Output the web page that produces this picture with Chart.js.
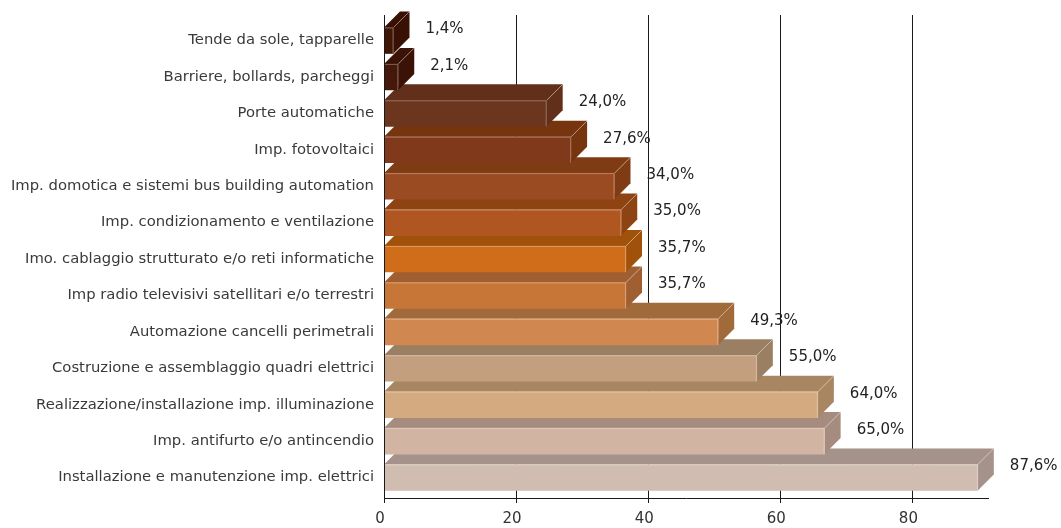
<!DOCTYPE html>
<html>
<head>
<meta charset="utf-8">
<script src="https://cdn.jsdelivr.net/npm/chart.js@4.4.1/dist/chart.umd.min.js"></script>
<style>
    html, body { margin: 0; padding: 0; background: #fff; }
    #wrap { width: 1061px; height: 528px; }
</style>
</head>
<body>
<div id="wrap"><canvas id="chart"></canvas></div>
<script>
/* ============================================
   DATA
============================================ */

const categories = [
    "Tende da sole, tapparelle",
    "Barriere, bollards, parcheggi",
    "Porte automatiche",
    "Imp. fotovoltaici",
    "Imp. domotica e sistemi bus building automation",
    "Imp. condizionamento e ventilazione",
    "Imo. cablaggio strutturato e/o reti informatiche",
    "Imp radio televisivi satellitari e/o terrestri",
    "Automazione cancelli perimetrali",
    "Costruzione e assemblaggio quadri elettrici",
    "Realizzazione/installazione imp. illuminazione",
    "Imp. antifurto e/o antincendio",
    "Installazione e manutenzione imp. elettrici"
];

const percentages = [1.4, 2.1, 24.0, 27.6, 34.0, 35.0, 35.7, 35.7, 49.3, 55.0, 64.0, 65.0, 87.6];

const axisTicks = [0, 20, 40, 60, 80];

// colori: faccia frontale e facce in ombra (sopra / lato)
const frontColors = [
    "#421607", "#46180a", "#6b361d", "#80391a", "#9a4b22", "#b05621", "#cf6d1b",
    "#c87538", "#d08750", "#c39f7f", "#d4aa80", "#d2b4a2", "#d0bcb0"
];
const shadeColors = [
    "#381104", "#3b1306", "#62301a", "#76340f", "#7f3c14", "#8e4313", "#a0520b",
    "#a05f30", "#a06a3a", "#9a7f63", "#a88662", "#a58c7f", "#a5928a"
];

const DEPTH = 16;

function formatPercent(v) {
    return v.toFixed(1).replace(".", ",") + "%";
}

/* ============================================
   3D BARS (top + side faces, labels)
============================================ */

const bar3d = {
    id: "bar3d",
    beforeDatasetsDraw(chart) {
        const ctx = chart.ctx;
        const bars = chart.getDatasetMeta(0).data;
        ctx.save();
        for (let i = bars.length - 1; i >= 0; i--) {
            const b = bars[i];
            const top = b.y - b.height / 2;
            const bottom = b.y + b.height / 2;
            ctx.fillStyle = shadeColors[i];
            // faccia superiore
            ctx.beginPath();
            ctx.moveTo(b.base, top);
            ctx.lineTo(b.x, top);
            ctx.lineTo(b.x + DEPTH, top - DEPTH);
            ctx.lineTo(b.base + DEPTH, top - DEPTH);
            ctx.closePath();
            ctx.fill();
            // faccia laterale
            ctx.beginPath();
            ctx.moveTo(b.x, top);
            ctx.lineTo(b.x + DEPTH, top - DEPTH);
            ctx.lineTo(b.x + DEPTH, bottom - DEPTH);
            ctx.lineTo(b.x, bottom);
            ctx.closePath();
            ctx.fill();
        }
        ctx.restore();
    },
    afterDatasetsDraw(chart) {
        const ctx = chart.ctx;
        const bars = chart.getDatasetMeta(0).data;
        ctx.save();
        // spigoli chiari
        ctx.strokeStyle = "rgba(255,255,255,0.3)";
        ctx.lineWidth = 1;
        bars.forEach(b => {
            const top = b.y - b.height / 2;
            const bottom = b.y + b.height / 2;
            ctx.beginPath();
            ctx.moveTo(b.x - 0.5, bottom);
            ctx.lineTo(b.x - 0.5, top + 0.5);
            ctx.lineTo(b.base + 1, top + 0.5);
            ctx.moveTo(b.x, top);
            ctx.lineTo(b.x + DEPTH, top - DEPTH);
            ctx.stroke();
        });
        // etichette valori
        ctx.fillStyle = "#222";
        ctx.font = "15px 'DejaVu Sans'";
        ctx.textAlign = "left";
        ctx.textBaseline = "middle";
        bars.forEach((b, i) => {
            ctx.fillText(formatPercent(percentages[i]), b.x + DEPTH + 16, b.y - 11);
        });
        ctx.restore();
    }
};

/* ============================================
   CHART
============================================ */

Chart.defaults.font.family = "'DejaVu Sans'";
Chart.defaults.color = "#333";

new Chart(document.getElementById("chart"), {
    type: "bar",
    data: {
        datasets: [{
            data: percentages.map((v, i) => ({ x: v, y: i })),
            backgroundColor: frontColors,
            borderWidth: 0,
            barThickness: 26
        }]
    },
    options: {
        indexAxis: "y",
        responsive: true,
        maintainAspectRatio: false,
        animation: false,
        layout: { padding: { top: 15, right: 73, left: 0, bottom: 0 } },
        plugins: {
            legend: { display: false },
            tooltip: { enabled: false }
        },
        scales: {
            x: {
                type: "linear",
                display: false,
                min: 0,
                max: 89.1
            },
            x2: {
                type: "linear",
                position: "bottom",
                min: 0,
                max: 91.45,
                afterBuildTicks: s => { s.ticks = axisTicks.map(v => ({ value: v })); },
                afterFit: s => { s.height = 30; },
                grid: { color: "#1a1a1a", tickLength: 5 },
                border: { color: "#1a1a1a" },
                ticks: {
                    font: { size: 15 },
                    color: "#333",
                    padding: 7,
                    labelOffset: -4
                }
            },
            y: {
                type: "linear",
                reverse: true,
                offset: false,
                min: -0.7,
                max: 12.563,
                afterBuildTicks: s => { s.ticks = categories.map((c, i) => ({ value: i })); },
                afterFit: s => {
                    s.width = 384;
                    s.paddingTop = 0;
                    s.paddingBottom = 0;
                },
                grid: { display: false, drawTicks: false },
                border: { color: "#1a1a1a", z: 1 },
                ticks: {
                    font: { size: 14.8 },
                    color: "#3a3a3a",
                    padding: 10,
                    callback: v => categories[v]
                }
            }
        }
    },
    plugins: [bar3d]
});
</script>
</body>
</html>
